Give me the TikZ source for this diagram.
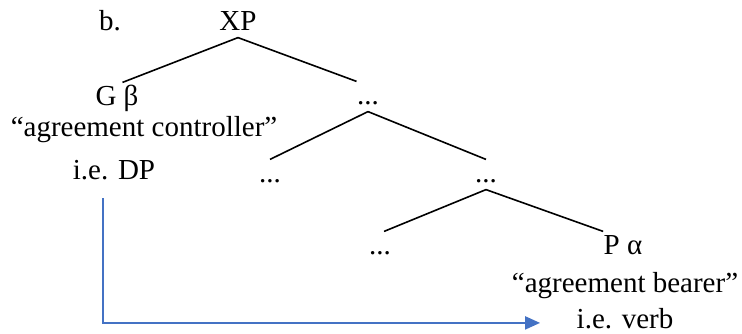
\documentclass[tikz,border=0pt]{standalone}
\usepackage{fontspec}
\setmainfont{Liberation Serif}
\usetikzlibrary{arrows.meta,positioning}
\definecolor{agrblue}{RGB}{68,114,196}

\begin{document}
\begin{tikzpicture}[x=0.5pt, y=-0.5pt, semithick]

    \tikzstyle{word} = [inner sep=0pt, anchor=base, text height=11pt, text depth=3.5pt, font=\fontsize{14.5}{17}\selectfont]
    \tikzstyle{branch} = [line width=0.8pt, draw=black]
    \tikzstyle{agree} = [line width=1pt, draw=agrblue, -{Triangle[length=7.5pt, width=6.5pt]}]

    \useasboundingbox (0,0) rectangle (742,333);

    \node (ex)    [word] at (110,30)    {b.};
    \node (xp)    [word] at (238,30)    {XP};

    \node (gb)    [word] at (117,105)   {G β};
    \node (ctrl)  [word, below=0.5pt of gb, xshift=13.5pt]    {“agreement controller”};
    \node (dp)    [word, below=6.5pt of ctrl, xshift=-15pt]   {i.e. DP};

    \node (d1)    [word] at (368,104)   {...};
    \node (d2)    [word] at (270,182)   {...};
    \node (d3)    [word] at (486,182)   {...};
    \node (d4)    [word] at (380,254)   {...};

    \node (pa)    [word] at (623,254)   {P α};
    \node (bear)  [word, below=4pt of pa, xshift=1pt]   {“agreement bearer”};
    \node (verb)  [word, below=3pt of bear]             {i.e. verb};

    \path[branch]  (xp.south)  edge  (gb.70)  edge  (d1.north west);
    \path[branch]  (d1.south)  edge  (d2.north)  edge  (d3.north);
    \path[branch]  (d3.south)  edge  (d4.75)  edge  (pa.north west);

    \draw[agree, shorten >=18pt]  ([shift={(-11,11)}]dp.south) |- ([yshift=-1pt]verb.west);
\end{tikzpicture}
\end{document}
